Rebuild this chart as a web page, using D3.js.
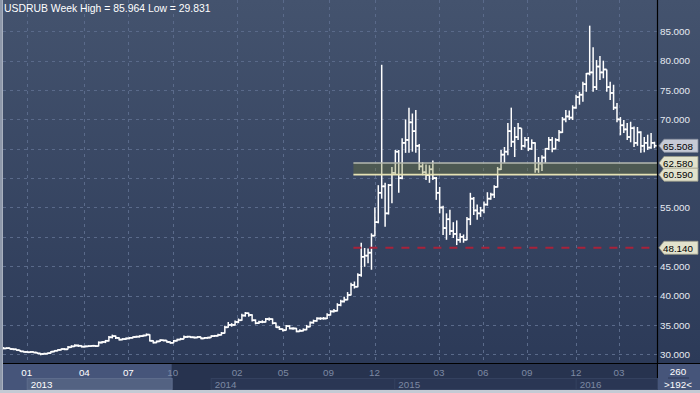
<!DOCTYPE html>
<html><head><meta charset="utf-8">
<script src="https://cdn.jsdelivr.net/npm/d3@7"></script>
<style>html,body{margin:0;padding:0;background:#c4cad4;}svg{display:block;}</style>
</head><body>
<svg id="chart" width="700" height="393"></svg>
<script>
const title = "USDRUB Week High = 85.964 Low = 29.831";

const opens = [
31.10,31.00,31.05,30.90,30.85,30.70,30.50,30.40,30.35,30.40,
30.30,30.15,30.05,30.10,30.20,30.45,30.60,30.75,30.90,30.85,
31.20,31.35,31.50,31.45,31.30,31.35,31.40,31.45,31.40,32.00,
32.10,32.30,32.90,33.10,32.80,32.50,32.60,32.70,32.80,32.95,
33.00,33.10,33.20,33.35,32.30,32.00,32.20,32.40,32.35,32.10,
31.95,32.30,32.50,32.60,32.95,33.00,32.90,32.85,32.95,32.70,
32.80,32.85,33.10,33.15,33.30,33.60,34.60,35.00,35.00,35.50,
35.80,36.60,37.00,36.70,35.80,35.30,35.50,35.50,36.00,36.00,
35.30,34.60,34.30,34.10,34.80,34.40,34.40,33.90,34.00,34.20,
34.70,35.40,35.70,36.10,36.10,36.10,36.70,37.30,37.40,38.40,
39.00,39.30,40.10,41.80,41.50,43.50,46.60,46.80,47.30,50.20,
52.50,57.50,58.60,54.00,58.80,60.90,64.50,60.00,66.00,66.50,
69.50,68.00,65.50,62.00,61.00,60.50,61.50,60.00,57.50,55.00,
51.50,53.00,51.00,50.50,49.50,50.00,49.50,53.00,56.50,54.50,
54.00,54.50,55.50,56.50,57.20,58.50,61.50,64.00,64.50,68.00,
66.20,67.00,68.50,65.50,66.50,65.00,66.00,61.50,62.50,63.50,
65.00,66.50,65.00,66.50,67.80,70.00,70.50,70.30,72.00,73.80,
74.20,76.00,77.80,78.00,75.50,79.00,78.00,78.50,75.50,74.50,
72.00,70.00,69.00,68.30,67.00,68.50,66.00,67.80,65.50,66.00,
65.20,66.00];

const highs = [
31.25,31.20,31.10,31.00,30.90,30.75,30.60,30.55,30.55,30.45,
30.35,30.20,30.25,30.30,30.55,30.70,30.85,31.00,31.05,31.40,
31.55,31.70,31.65,31.55,31.50,31.55,31.60,31.55,32.20,32.25,
32.45,33.10,33.35,33.20,32.90,32.75,32.85,32.95,33.05,33.15,
33.25,33.35,33.55,33.40,32.40,32.35,32.55,32.50,32.40,32.20,
32.45,32.65,32.80,33.20,33.15,33.10,33.05,33.10,33.00,32.95,
33.00,33.25,33.30,33.50,33.80,34.85,35.50,35.30,35.75,36.10,
36.90,37.20,37.10,36.80,35.95,35.70,35.80,36.20,36.25,36.10,
35.40,34.80,34.40,35.00,34.95,34.60,34.50,34.25,34.40,35.00,
35.60,35.90,36.30,36.30,36.35,37.00,37.50,37.70,38.70,39.30,
39.80,40.60,42.20,42.40,43.80,49.00,48.10,48.00,50.60,55.00,
58.80,79.30,59.20,59.00,61.90,64.80,64.80,66.80,70.00,72.00,
71.00,71.60,65.80,62.70,62.30,62.20,63.00,60.20,58.50,55.30,
54.00,54.60,52.50,52.80,50.60,50.40,53.40,57.50,56.80,55.50,
55.10,56.00,57.60,57.50,58.80,61.90,64.80,65.30,69.40,72.00,
68.70,69.40,68.50,67.00,67.00,66.60,66.10,63.60,63.90,65.10,
67.00,67.00,66.80,68.20,70.40,71.60,71.50,72.40,74.20,74.70,
76.40,77.90,85.96,82.30,80.10,80.80,80.00,78.50,76.40,75.90,
72.80,70.40,69.90,69.40,69.60,68.80,68.70,68.00,67.00,67.40,
67.70,66.20];

const lows = [
30.85,30.90,30.80,30.70,30.55,30.40,30.30,30.25,30.25,30.20,
30.05,29.83,29.95,30.00,30.15,30.35,30.50,30.65,30.70,30.80,
31.10,31.25,31.25,31.15,31.15,31.25,31.30,31.25,31.35,31.85,
31.90,32.20,32.70,32.60,32.35,32.40,32.45,32.55,32.70,32.80,
32.85,32.95,33.10,32.20,31.85,31.90,32.10,32.20,31.95,31.80,
31.90,32.20,32.40,32.55,32.80,32.75,32.70,32.75,32.55,32.60,
32.65,32.80,32.95,33.05,33.20,33.55,34.50,34.70,34.90,35.30,
35.70,36.40,36.40,35.60,35.10,35.15,35.30,35.40,35.70,35.10,
34.50,34.15,33.90,34.05,34.25,34.20,33.75,33.80,33.90,34.10,
34.60,35.20,35.55,35.85,35.90,36.00,36.60,37.10,37.30,38.20,
38.80,39.20,40.00,41.20,41.40,43.20,44.90,45.50,44.40,50.10,
52.30,56.50,51.70,53.80,55.70,60.60,57.50,59.80,64.30,64.30,
64.50,64.30,61.40,60.50,59.70,59.20,59.70,56.30,54.00,50.30,
49.50,50.30,49.80,48.60,49.00,49.00,49.40,52.00,53.70,52.90,
53.40,54.00,55.30,56.30,56.60,58.40,61.40,62.60,63.90,65.30,
63.60,66.50,64.80,65.20,64.60,64.80,60.90,60.90,61.20,62.60,
64.80,64.40,64.90,66.20,67.70,69.50,69.90,69.90,71.80,72.50,
73.00,74.70,77.50,74.70,75.00,76.70,77.00,74.70,73.30,71.60,
69.50,67.30,67.70,66.50,66.10,65.30,65.50,64.30,64.40,64.80,
65.00,65.10];

const closes = [
31.00,31.05,30.90,30.85,30.70,30.50,30.40,30.35,30.40,30.30,
30.15,30.05,30.10,30.20,30.45,30.60,30.75,30.90,30.85,31.20,
31.35,31.50,31.45,31.30,31.35,31.40,31.45,31.40,32.00,32.10,
32.30,32.90,33.10,32.80,32.50,32.60,32.70,32.80,32.95,33.00,
33.10,33.20,33.35,32.30,32.00,32.20,32.40,32.35,32.10,31.95,
32.30,32.50,32.60,32.95,33.00,32.90,32.85,32.95,32.70,32.80,
32.85,33.10,33.15,33.30,33.60,34.60,35.00,35.00,35.50,35.80,
36.60,37.00,36.70,35.80,35.30,35.50,35.50,36.00,36.00,35.30,
34.60,34.30,34.10,34.80,34.40,34.40,33.90,34.00,34.20,34.70,
35.40,35.70,36.10,36.10,36.10,36.70,37.30,37.40,38.40,39.00,
39.30,40.10,41.80,41.50,43.50,46.60,46.80,47.30,50.20,52.50,
57.50,58.60,54.00,58.80,60.90,64.50,60.00,66.00,66.50,69.50,
68.00,65.50,62.00,61.00,60.50,61.50,60.00,57.50,55.00,51.50,
53.00,51.00,50.50,49.50,50.00,49.50,53.00,56.50,54.50,54.00,
54.50,55.50,56.50,57.20,58.50,61.50,64.00,64.50,68.00,66.20,
67.00,68.50,65.50,66.50,65.00,66.00,61.50,62.50,63.50,65.00,
66.50,65.00,66.50,67.80,70.00,70.50,70.30,72.00,73.80,74.20,
76.00,77.80,78.00,75.50,79.00,78.00,78.50,75.50,74.50,72.00,
70.00,69.00,68.30,67.00,68.50,66.00,67.80,65.50,66.00,65.20,
66.00,65.51];

const yTicks = [30, 35, 40, 45, 50, 55, 60, 65, 70, 75, 80, 85];
const monthLabels = ["01","04","07","10","02","05","09","12","03","06","09","12","03"];
const monthIdx = [6.9, 23.8, 36.7, 49.7, 68.6, 82.1, 95.4, 108.9, 127.8, 140.7, 153.6, 168.0, 180.6];
const yearLabels = ["2013","2014","2015","2016"];
const yearIdx = [6.9, 60.85, 114.7, 167.9];
const highlightEndIdx = 49.4;
const lastPrice = 65.508;
const bandTop = 62.580, bandBottom = 60.590;
const supportLevel = 48.140;
const levelStartIdx = 102.7;
const totalBars = "260", visibleBars = ">192<";

if ([opens, highs, lows].some(a => a.length !== closes.length)) throw new Error("length mismatch " + [opens.length, highs.length, lows.length, closes.length]);

const W = 700, H = 393;
const plotL = 3, plotR = 657, plotT = 0, plotB = 363;
const FONT = "Liberation Sans, Arial, sans-serif";
const svg = d3.select("#chart");
const defs = svg.append("defs");
const grad = defs.append("linearGradient").attr("id","bg").attr("x1",0).attr("y1",0).attr("x2",0).attr("y2",1);
grad.append("stop").attr("offset","0%").attr("stop-color","#44536e");
grad.append("stop").attr("offset","100%").attr("stop-color","#2c3a58");
defs.append("clipPath").attr("id","clip").append("rect").attr("x",plotL).attr("y",plotT).attr("width",plotR-plotL).attr("height",plotB-plotT);

const x = d3.scaleLinear().domain([0, closes.length - 1]).range([3.19, 3.19 + 3.41 * (closes.length - 1)]);
const y = d3.scaleLinear().domain([30, 85]).range([354.3, 31.3]);

// backgrounds
svg.append("rect").attr("x",0).attr("y",0).attr("width",W).attr("height",H).attr("fill","#c4cad4");
svg.append("rect").attr("x",plotL).attr("y",0).attr("width",W-plotL).attr("height",plotB).attr("fill","url(#bg)");
svg.append("rect").attr("x",plotL).attr("y",plotB).attr("width",plotR-plotL).attr("height",390-plotB).attr("fill","#27334f");
svg.append("rect").attr("x",plotL).attr("y",plotB).attr("width",x(highlightEndIdx)-plotL).attr("height",390-plotB).attr("fill","#46557a");

// grid
const g = svg.append("g").attr("clip-path","url(#clip)");
g.selectAll("line.hg").data(yTicks).join("line")
  .attr("x1",plotL).attr("x2",plotR)
  .attr("y1",d=>Math.round(y(d))+0.5).attr("y2",d=>Math.round(y(d))+0.5)
  .attr("stroke","#5a6a8a").attr("stroke-width",1).attr("stroke-dasharray","3,4");
g.selectAll("line.vg").data(monthIdx).join("line")
  .attr("x1",d=>Math.round(x(d))+0.5).attr("x2",d=>Math.round(x(d))+0.5)
  .attr("y1",0).attr("y2",plotB)
  .attr("stroke","#5a6a8a").attr("stroke-width",1).attr("stroke-dasharray","3,4");

// bars
const idx = d3.range(closes.length);
const bars = g.append("g").attr("stroke","#ffffff").attr("fill","none");
bars.selectAll("line.hl").data(idx).join("line")
  .attr("x1",i=>x(i)).attr("x2",i=>x(i))
  .attr("y1",i=>y(highs[i])).attr("y2",i=>y(lows[i]))
  .attr("stroke-width",1.5);
bars.selectAll("line.op").data(idx).join("line")
  .attr("x1",i=>x(i)-2.2).attr("x2",i=>x(i))
  .attr("y1",i=>y(opens[i])).attr("y2",i=>y(opens[i]))
  .attr("stroke-width",1.7);
bars.selectAll("line.cl").data(idx).join("line")
  .attr("x1",i=>x(i)).attr("x2",i=>x(i)+2.2)
  .attr("y1",i=>y(closes[i])).attr("y2",i=>y(closes[i]))
  .attr("stroke-width",1.7);

// band
const bx = x(levelStartIdx);
g.append("rect").attr("x",bx).attr("y",y(bandTop)).attr("width",plotR-bx).attr("height",y(bandBottom)-y(bandTop))
  .attr("fill","#7a8030").attr("fill-opacity",0.32);
g.append("line").attr("x1",bx).attr("x2",plotR).attr("y1",y(bandTop)).attr("y2",y(bandTop))
  .attr("stroke","#b4b8b0").attr("stroke-width",1.6);
g.append("line").attr("x1",bx).attr("x2",plotR).attr("y1",y(bandBottom)).attr("y2",y(bandBottom))
  .attr("stroke","#e6e2b4").attr("stroke-width",1.6);
g.append("line").attr("x1",bx).attr("x2",plotR).attr("y1",y(supportLevel)).attr("y2",y(supportLevel))
  .attr("stroke","#a8223a").attr("stroke-width",2).attr("stroke-dasharray","8,8");

// title
svg.append("text").attr("x",4).attr("y",11.5).text(title)
  .attr("font-family",FONT).attr("font-size",10.4).attr("fill","#ffffff");

// axis lines
svg.append("line").attr("x1",plotR+0.5).attr("x2",plotR+0.5).attr("y1",0).attr("y2",390).attr("stroke","#000").attr("stroke-width",1.2);
svg.append("line").attr("x1",plotL).attr("x2",W).attr("y1",plotB+0.5).attr("y2",plotB+0.5).attr("stroke","#000").attr("stroke-width",1.2);

// tags (levels shown on the right axis)
const tags = [
  {v:lastPrice, fill:"#c6cad6", stroke:"#8a90a0"},
  {v:bandTop, fill:"#e2e2cc", stroke:"#9a9a88"},
  {v:bandBottom, fill:"#e2e2cc", stroke:"#9a9a88"},
  {v:supportLevel, fill:"#e2e2cc", stroke:"#9a9a88"}
];

// y labels (those hidden under a tag are skipped)
const visibleTicks = yTicks.filter(d => tags.every(t => Math.abs(y(d) - y(t.v)) > 11));
svg.append("g").selectAll("text").data(visibleTicks).join("text")
  .attr("x",660).attr("y",d=>y(d)+3.8).text(d=>d3.format(".3f")(d))
  .attr("font-family",FONT).attr("font-size",9.8).attr("fill","#e6eaf2");

const tg = svg.append("g");
tags.forEach(t => {
  const yc = y(t.v);
  tg.append("path").attr("d",`M659,${yc} L664,${yc-6.5} L698,${yc-6.5} L698,${yc+6.5} L664,${yc+6.5} Z`)
    .attr("fill",t.fill).attr("stroke",t.stroke).attr("stroke-width",0.8);
  tg.append("text").attr("x",663).attr("y",yc+3.8).text(d3.format(".3f")(t.v))
    .attr("font-family",FONT).attr("font-size",9.8).attr("fill","#000");
});

// x axis month labels
svg.append("g").selectAll("text").data(monthIdx).join("text")
  .attr("x",d=>x(d)).attr("y",376).attr("text-anchor","middle").text((d,i)=>monthLabels[i])
  .attr("font-family",FONT).attr("font-size",9.8)
  .attr("fill",d=>d < highlightEndIdx ? "#ffffff" : "#7d89a3");

// year boxes
const yg = svg.append("g");
yearIdx.forEach((s,i) => {
  const x0 = x(s);
  const x1 = i < yearIdx.length - 1 ? x(yearIdx[i+1]) : plotR;
  const xe = i === 0 ? x(highlightEndIdx) : x1;
  yg.append("rect").attr("x",x0+0.5).attr("y",378.5).attr("width",xe-x0).attr("height",11)
    .attr("fill", i===0 ? "#536282" : "#2a3654").attr("stroke", i===0 ? "#5d6c8c" : "#34415f").attr("stroke-width",1);
  yg.append("text").attr("x",x0+4).attr("y",388).text(yearLabels[i])
    .attr("font-family",FONT).attr("font-size",9.8)
    .attr("fill", i===0 ? "#ffffff" : "#7d89a3");
});

// corner box
svg.append("rect").attr("x",plotR+1).attr("y",plotB+1).attr("width",W-plotR-1).attr("height",390-plotB-1).attr("fill","#46557a");
svg.append("text").attr("x",678).attr("y",375).attr("text-anchor","middle").text(totalBars)
  .attr("font-family",FONT).attr("font-size",9.8).attr("fill","#fff");
svg.append("line").attr("x1",668).attr("x2",689).attr("y1",378).attr("y2",378).attr("stroke","#2a3654").attr("stroke-width",1);
svg.append("text").attr("x",678).attr("y",387.5).attr("text-anchor","middle").text(visibleBars)
  .attr("font-family",FONT).attr("font-size",9.8).attr("fill","#fff");

// frame
svg.append("rect").attr("x",0).attr("y",0).attr("width",2.5).attr("height",H).attr("fill","#8e98aa");
svg.append("rect").attr("x",0).attr("y",390).attr("width",W).attr("height",3).attr("fill","#c4cad4");
</script>
</body></html>
